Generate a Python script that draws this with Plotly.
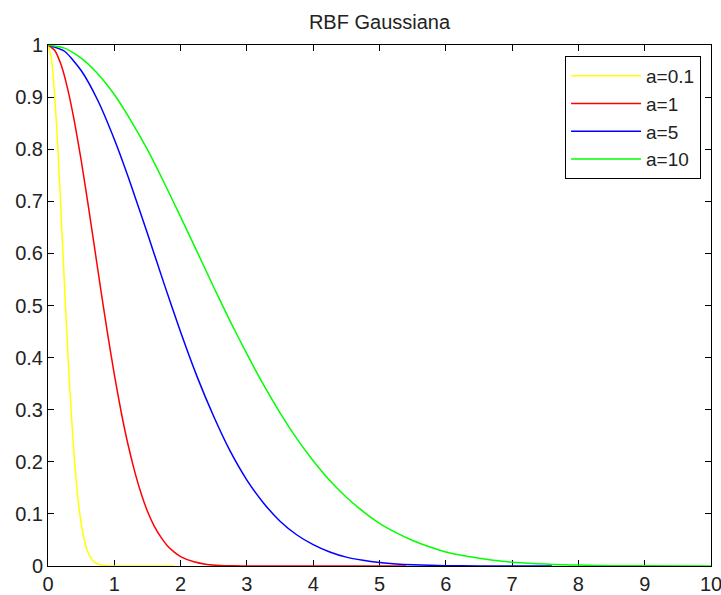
import plotly.graph_objects as go

# Values
x_a01 = [0, 0.05, 0.1, 0.15, 0.2, 0.25, 0.3, 0.35, 0.4, 0.45, 0.5, 0.55, 0.6, 0.65, 0.7, 0.75, 0.8, 0.9, 1.0, 1.9]
y_a01 = [1, 0.975, 0.905, 0.799, 0.670, 0.535, 0.407, 0.294, 0.202, 0.132, 0.082, 0.049, 0.027, 0.015, 0.007, 0.004, 0.002, 0.0003, 0, 0]

x_a1 = [0, 0.1, 0.2, 0.3, 0.4, 0.5, 0.6, 0.7, 0.8, 0.9, 1.0, 1.1, 1.2, 1.3, 1.4, 1.5, 1.6, 1.7, 1.8, 1.9, 2.0, 2.2, 2.4, 2.6, 2.8, 3.0, 5.4]
y_a1 = [1, 0.990, 0.961, 0.914, 0.852, 0.779, 0.698, 0.613, 0.527, 0.445, 0.368, 0.298, 0.237, 0.185, 0.141, 0.105, 0.077, 0.056, 0.039, 0.027, 0.018, 0.008, 0.003, 0.001, 0.0004, 0.0001, 0]

x_a5 = [0, 0.25, 0.5, 0.75, 1.0, 1.25, 1.5, 1.75, 2.0, 2.25, 2.5, 2.75, 3.0, 3.25, 3.5, 3.75, 4.0, 4.25, 4.5, 4.75, 5.0, 5.25, 5.5, 6.0, 6.5, 7.0, 7.6]
y_a5 = [1, 0.988, 0.951, 0.894, 0.819, 0.732, 0.638, 0.542, 0.449, 0.363, 0.287, 0.220, 0.165, 0.121, 0.086, 0.060, 0.041, 0.027, 0.017, 0.011, 0.0067, 0.004, 0.0024, 0.0007, 0.0002, 0.00006, 0]

x_a10 = [0, 0.25, 0.5, 0.75, 1.0, 1.25, 1.5, 1.75, 2.0, 2.25, 2.5, 2.75, 3.0, 3.25, 3.5, 3.75, 4.0, 4.25, 4.5, 4.75, 5.0, 5.25, 5.5, 5.75, 6.0, 6.25, 6.5, 6.75, 7.0, 7.25, 7.5, 7.75, 8.0, 8.5, 9.0, 10.0]
y_a10 = [1, 0.994, 0.975, 0.945, 0.905, 0.855, 0.799, 0.736, 0.670, 0.603, 0.535, 0.469, 0.407, 0.348, 0.294, 0.245, 0.202, 0.164, 0.132, 0.105, 0.082, 0.064, 0.049, 0.037, 0.027, 0.020, 0.015, 0.0105, 0.0074, 0.0052, 0.0036, 0.0025, 0.0017, 0.0007, 0.0003, 0]

x_ticks = [0, 1, 2, 3, 4, 5, 6, 7, 8, 9, 10]
y_ticks = [0, 0.1, 0.2, 0.3, 0.4, 0.5, 0.6, 0.7, 0.8, 0.9, 1]
y_tick_labels = ["0", "0.1", "0.2", "0.3", "0.4", "0.5", "0.6", "0.7", "0.8", "0.9", "1"]

FONT = "Arial, Liberation Sans, sans-serif"

fig = go.Figure()
series = [
    ("a=0.1", x_a01, y_a01, "#ffff00"),
    ("a=1", x_a1, y_a1, "#ff0000"),
    ("a=5", x_a5, y_a5, "#0000ff"),
    ("a=10", x_a10, y_a10, "#00ff00"),
]
for name, xs, ys, col in series:
    fig.add_trace(go.Scatter(x=xs, y=ys, mode="lines", name=name,
                             line=dict(color=col, width=1.5, shape="spline", smoothing=0.6)))

axis_common = dict(
    showline=True, linecolor="black", linewidth=1, mirror="allticks",
    ticks="inside", ticklen=6, tickcolor="black", tickwidth=1,
    showgrid=False, zeroline=False, layer="below traces",
    ticklabeloverflow="allow", automargin=False,
    tickfont=dict(family=FONT, size=20, color="#222"),
)
fig.update_xaxes(range=[0, 10], tickvals=x_ticks, ticktext=[str(v) for v in x_ticks], **axis_common)
fig.update_yaxes(range=[0, 1], tickvals=y_ticks, ticktext=y_tick_labels, **axis_common)

fig.update_layout(
    width=721, height=595,
    margin=dict(l=48, r=10, t=45, b=29, autoexpand=False),
    paper_bgcolor="white", plot_bgcolor="white",
    title=dict(text="RBF Gaussiana", x=0.5, xref="paper", xanchor="center", y=1 - 21.5 / 595, yanchor="middle",
               font=dict(family=FONT, size=20, color="#222")),
    legend=dict(x=0.985, xanchor="right", y=0.979, yanchor="top",
                bgcolor="white", bordercolor="black", borderwidth=1, itemwidth=70,
                font=dict(family=FONT, size=19, color="#222")),
    showlegend=True,
)

fig.write_html("out.html")
